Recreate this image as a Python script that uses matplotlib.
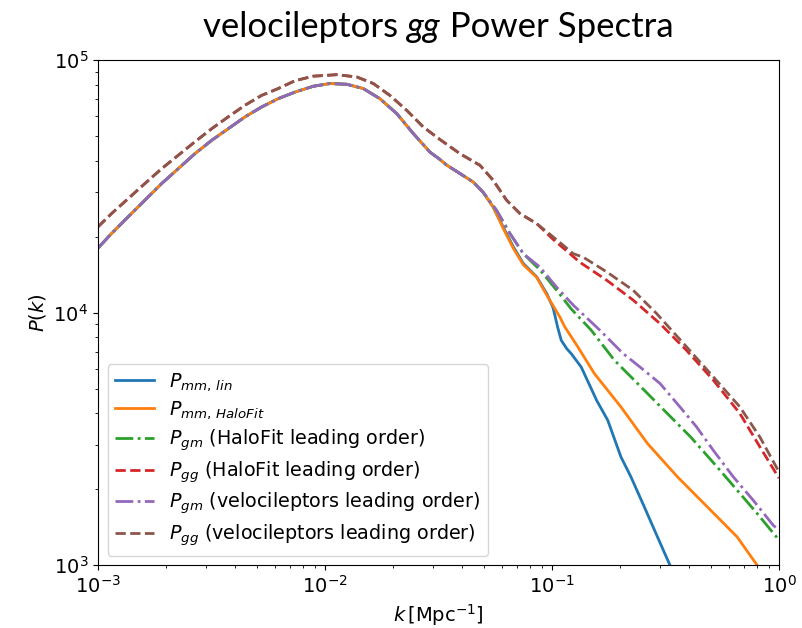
import numpy as np
import matplotlib.pyplot as plt

# values, stored as log10(k) and log10(P)
# low-k part shared by the matter-based curves
logk_mm = [-3.000, -2.940, -2.867, -2.793, -2.719, -2.646, -2.573, -2.499, -2.426,
           -2.352, -2.279, -2.206, -2.132, -2.052, -1.978, -1.904, -1.831, -1.758,
           -1.684, -1.611, -1.537, -1.493, -1.464, -1.420, -1.347, -1.304, -1.259]
logP_mm = [4.256, 4.314, 4.380, 4.446, 4.512, 4.571, 4.630, 4.683, 4.729,
           4.776, 4.815, 4.848, 4.874, 4.897, 4.908, 4.905, 4.888, 4.848,
           4.789, 4.710, 4.636, 4.607, 4.585, 4.560, 4.518, 4.478, 4.419]

# low-k part shared by the two P_gg curves
logk_gg = [-3.000, -2.940, -2.867, -2.793, -2.719, -2.646, -2.573, -2.499, -2.426,
           -2.352, -2.279, -2.206, -2.132, -2.052, -1.948, -1.860, -1.787, -1.714,
           -1.640, -1.567, -1.493, -1.405, -1.317, -1.259, -1.200, -1.141, -1.067]
logP_gg = [4.340, 4.393, 4.452, 4.512, 4.571, 4.624, 4.677, 4.729, 4.776,
           4.822, 4.861, 4.888, 4.919, 4.937, 4.943, 4.934, 4.908, 4.861,
           4.802, 4.736, 4.686, 4.630, 4.584, 4.525, 4.446, 4.393, 4.353]

# high-k tails
logk_lin = [-1.215, -1.170, -1.126, -1.067, -1.023, -0.995, -0.974, -0.959, -0.935,
            -0.915, -0.871, -0.803, -0.754, -0.696, -0.652, -0.593, -0.535, -0.480, -0.450]
logP_lin = [4.340, 4.261, 4.195, 4.142, 4.076, 4.020, 3.940, 3.891, 3.858,
            3.838, 3.785, 3.653, 3.574, 3.429, 3.350, 3.231, 3.112, 3.000, 2.930]

logk_hf = [-1.215, -1.170, -1.126, -1.067, -1.023, -0.965, -0.944, -0.886, -0.813,
           -0.696, -0.579, -0.447, -0.301, -0.184, -0.096, -0.070]
logP_hf = [4.335, 4.255, 4.190, 4.140, 4.070, 3.983, 3.945, 3.865, 3.759,
           3.627, 3.482, 3.350, 3.218, 3.112, 3.000, 2.970]

logk_gm_hf = [-1.244, -1.185, -1.126, -1.053, -0.980, -0.915, -0.827, -0.725, -0.623,
              -0.506, -0.389, -0.272, -0.184, -0.096, 0.000]
logP_gm_hf = [4.406, 4.314, 4.234, 4.170, 4.090, 4.015, 3.931, 3.812, 3.720,
              3.614, 3.508, 3.389, 3.297, 3.205, 3.100]

logk_gm_vl = [-1.244, -1.185, -1.126, -1.053, -0.980, -0.906, -0.789, -0.686, -0.612,
              -0.524, -0.436, -0.363, -0.289, -0.201, -0.113, -0.025, 0.000]
logP_gm_vl = [4.406, 4.314, 4.234, 4.181, 4.102, 4.030, 3.931, 3.838, 3.785,
              3.720, 3.627, 3.548, 3.455, 3.350, 3.257, 3.158, 3.139]

logk_gg_hf = [-0.994, -0.877, -0.759, -0.642, -0.524, -0.407, -0.289, -0.172, -0.084, 0.000]
logP_gg_hf = [4.290, 4.200, 4.129, 4.050, 3.957, 3.851, 3.733, 3.601, 3.469, 3.345]

logk_gg_vl = [-0.994, -0.906, -0.862, -0.759, -0.642, -0.539, -0.407, -0.289, -0.172,
              -0.084, 0.000]
logP_gg_vl = [4.300, 4.234, 4.220, 4.162, 4.089, 3.997, 3.865, 3.746, 3.627,
              3.508, 3.370]

labels = [r'$P_{mm,\,lin}$', r'$P_{mm,\,HaloFit}$',
          r'$P_{gm}$ (HaloFit leading order)', r'$P_{gg}$ (HaloFit leading order)',
          r'$P_{gm}$ (velocileptors leading order)', r'$P_{gg}$ (velocileptors leading order)']
colors = ['C0', 'C1', 'C2', 'C3', 'C4', 'C5']
styles = ['-', '-', '-.', '--', '-.', '--']


def curve(lk_low, lp_low, lk_tail, lp_tail, n_low):
    # low-k points up to index n_low, then the tail
    lk = np.array(lk_low[:n_low] + lk_tail)
    lp = np.array(lp_low[:n_low] + lp_tail)
    return 10 ** lk, 10 ** lp


series = [
    curve(logk_mm, logP_mm, logk_lin, logP_lin, len(logk_mm)),
    curve(logk_mm, logP_mm, logk_hf, logP_hf, len(logk_mm)),
    curve(logk_mm, logP_mm, logk_gm_hf, logP_gm_hf, len(logk_mm) - 1),
    curve(logk_gg, logP_gg, logk_gg_hf, logP_gg_hf, len(logk_gg)),
    curve(logk_mm, logP_mm, logk_gm_vl, logP_gm_vl, len(logk_mm) - 1),
    curve(logk_gg, logP_gg, logk_gg_vl, logP_gg_vl, len(logk_gg)),
]

fig = plt.figure(figsize=(8.03, 6.28), dpi=100)
ax = fig.add_axes([0.122, 0.100, 0.848, 0.804])

for (k, p), c, ls, lab in zip(series, colors, styles, labels):
    ax.plot(k, p, color=c, ls=ls, lw=2.0, label=lab)

ax.set_xscale('log')
ax.set_yscale('log')
ax.set_xlim(1e-3, 1)
ax.set_ylim(1e3, 1e5)
ax.tick_params(labelsize=14)
ax.set_xlabel(r'$k\,[\mathrm{Mpc}^{-1}]$', fontsize=14)
ax.set_ylabel(r'$P(k)$', fontsize=14)
ax.legend(loc='lower left', fontsize=13.8, borderaxespad=0.5, labelspacing=0.32)

# title in a different font, with italic "gg"
ty = 0.932
t1 = fig.text(0.253, ty, 'velocileptors ', fontsize=25, family='Lato', va='bottom')
t2 = fig.text(0, ty, 'gg', fontsize=25, family='Lato', style='italic', va='bottom')
t3 = fig.text(0, ty, ' Power Spectra', fontsize=25, family='Lato', va='bottom')
fig.canvas.draw()
r = fig.canvas.get_renderer()
t2.set_x(t1.get_window_extent(r).x1 / fig.bbox.width)
t3.set_x(t2.get_window_extent(r).x1 / fig.bbox.width)

fig.savefig('out.png', dpi=100)
